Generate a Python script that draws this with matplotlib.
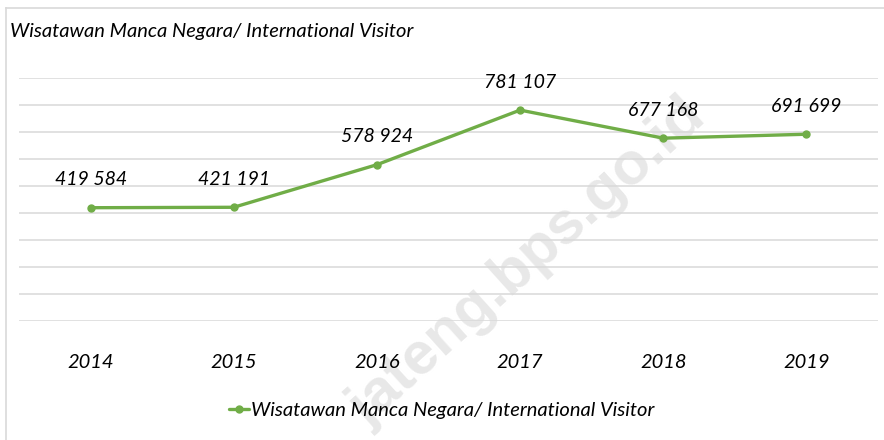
import matplotlib
matplotlib.use("Agg")
import matplotlib.pyplot as plt
from matplotlib.lines import Line2D

years = ["2014", "2015", "2016", "2017", "2018", "2019"]
visitors = [419584, 421191, 578924, 781107, 677168, 691699]
series_name = "Wisatawan Manca Negara/ International Visitor"
title = "Wisatawan Manca Negara/ International Visitor"
watermark = "jateng.bps.go.id"

FONT = ["Lato", "DejaVu Sans"]
plt.rcParams["font.family"] = FONT

W, H = 884, 440
fig = plt.figure(figsize=(W / 100, H / 100), dpi=100)
fig.patch.set_facecolor("white")

def fx(px):
    return px / W

def fy(py):
    return 1 - py / H

ax = fig.add_axes([fx(19), fy(321), fx(878) - fx(19), fy(78) - fy(321)])
ax.set_facecolor("none")

x = list(range(len(years)))
green = "#70ad47"
ax.plot(x, visitors, color=green, lw=2.4, marker="o", ms=5, zorder=3,
        label=series_name, solid_capstyle="round")

for xi, v in zip(x, visitors):
    lab = f"{v:,}".replace(",", " ")
    ax.annotate(lab, (xi, v), xytext=(0, 20), textcoords="offset points",
                ha="center", va="center", fontsize=14, style="italic",
                color="#000000", zorder=4)

ax.set_xlim(-0.5, len(years) - 0.5)
ax.set_ylim(0, 900000)
ax.set_yticks(range(0, 900001, 100000))
ax.yaxis.grid(True, color="#d9d9d9", lw=1.1)
ax.set_axisbelow(True)
ax.tick_params(axis="y", left=False, labelleft=False)
ax.set_xticks(x)
ax.set_xticklabels(years, fontsize=14.5, style="italic")
ax.tick_params(axis="x", bottom=False, pad=20)
for s in ax.spines.values():
    s.set_visible(False)

# watermark
ax.text(fx(528), fy(262), watermark, transform=fig.transFigure, rotation=42,
        ha="center", va="center", fontsize=43, fontweight="bold",
        family=["Liberation Sans", "DejaVu Sans"], color="#e8e8e8",
        zorder=0.3, clip_on=False)

fig.text(fx(10), fy(31), title, ha="left", va="center", fontsize=14.5,
         style="italic")

# chart border
fig.add_artist(Line2D([fx(6), fx(6)], [fy(8), 0], color="#d9d9d9", lw=1.2))
fig.add_artist(Line2D([fx(6), 1], [fy(8), fy(8)], color="#d9d9d9", lw=1.2))

leg = fig.legend(loc="center", bbox_to_anchor=(0.5, fy(410)), frameon=False,
                 prop={"size": 14.5, "style": "italic"}, handlelength=1.0,
                 handletextpad=0.1, borderaxespad=0)

fig.savefig("out.png", dpi=100, facecolor="white")
